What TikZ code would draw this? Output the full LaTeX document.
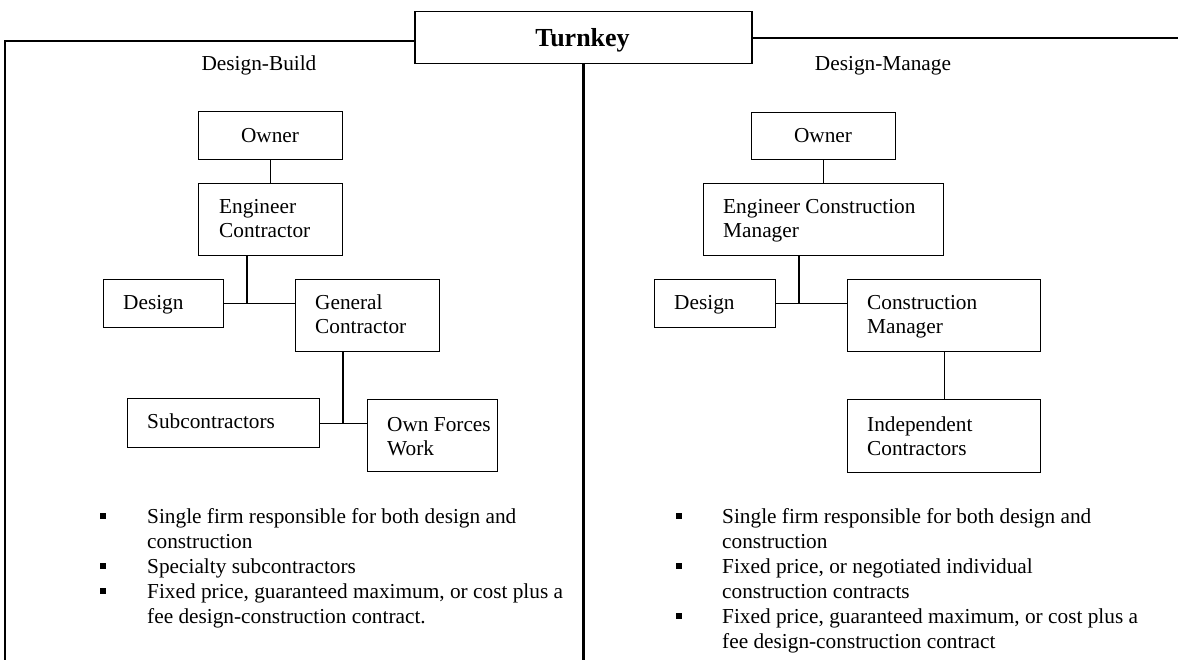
\documentclass[tikz,border=0pt]{standalone}
\usepackage{fontspec}
\setmainfont{Liberation Serif}
\begin{document}
\begin{tikzpicture}[x=1pt,y=-1pt,
  box/.style={draw, line width=1.4pt, inner sep=0pt, anchor=north west},
  txt/.style={inner sep=0pt, anchor=base west, align=left,
              font=\fontsize{21.3}{24}\selectfont},
  ctxt/.style={txt, anchor=base},
  btxt/.style={txt, font=\fontsize{21.3}{25}\selectfont},
  bullet/.style={fill, inner sep=0pt, minimum size=6.5pt},
  link/.style={draw, line width=1.4pt},
  frame/.style={draw, line width=1.5pt},
  divider/.style={draw, line width=3.4pt}]
\useasboundingbox (0,0) rectangle (1178,660);

% title box and panel outline
% (multi-line nodes below are anchored at the baseline of their last line)
\node[box, line width=1.5pt, minimum width=337, minimum height=52] (turnkey) at (414,11) {};
\node[ctxt, font=\fontsize{26}{30}\selectfont\bfseries] (turnkeyT) at (582.5,47) {Turnkey};
\draw[frame] (5,660) -- (5,41) -- (turnkey.west |- 0,41);
\draw[frame] (turnkey.east |- 0,38) -- (1178,38);
\draw[divider] (turnkey.south) -- (turnkey.south |- 0,660);

\node[ctxt] (dbT) at (259,71) {Design-Build};
\node[ctxt] (dmT) at (883,71) {Design-Manage};

% Design-Build tree
\node[box, minimum width=144, minimum height=48] (lOwner) at (198,111) {};
\node[box, minimum width=144, minimum height=72] (lEC) at (198,183) {};
\node[box, minimum width=120, minimum height=48] (lDesign) at (103,279) {};
\node[box, minimum width=144, minimum height=72] (lGC) at (295,279) {};
\node[box, minimum width=192, minimum height=49] (lSub) at (127,398) {};
\node[box, minimum width=130, minimum height=72] (lOwn) at (367,399) {};

\node[ctxt] (lOwnerT) at (270,143) {Owner};
\node[txt] (lECT) at (219,238) {Engineer\\Contractor};
\node[txt] (lDesignT) at (123,310) {Design};
\node[txt] (lGCT) at (315,334) {General\\Contractor};
\node[txt] (lSubT) at (147,428) {Subcontractors};
\node[txt] (lOwnT) at (387,455) {Own Forces\\Work};

\coordinate (jL) at (247,303);
\coordinate (jL2) at (343,423);
\draw[link] (lOwner) -- (lEC);
\draw[link] (lEC.south -| jL) -- (jL);
\draw[link] (lDesign.east) -- (lDesign.east -| lGC.west);
\draw[link] (lGC.south -| jL2) -- (jL2);
\draw[link] (lSub.east) -- (lSub.east -| lOwn.west);

% Design-Manage tree
\node[box, minimum width=144, minimum height=47] (rOwner) at (751,112) {};
\node[box, minimum width=240, minimum height=72] (rECM) at (703,183) {};
\node[box, minimum width=121, minimum height=48] (rDesign) at (654,279) {};
\node[box, minimum width=193, minimum height=72] (rCM) at (847,279) {};
\node[box, minimum width=193, minimum height=73] (rIC) at (847,399) {};

\node[ctxt] (rOwnerT) at (823,143) {Owner};
\node[txt] (rECMT) at (723,238) {Engineer Construction\\Manager};
\node[txt] (rDesignT) at (674,310) {Design};
\node[txt] (rCMT) at (867,334) {Construction\\Manager};
\node[txt] (rICT) at (867,455) {Independent\\Contractors};

\coordinate (jR) at (799,303);
\draw[link] (rOwner) -- (rECM);
\draw[link] (rECM.south -| jR) -- (jR);
\draw[link] (rDesign.east) -- (rDesign.east -| rCM.west);
\draw[link] (rCM) -- (rIC);

% notes, left
\node[bullet] (lb1) at (103,516) {};
\node[bullet] (lb2) at (103,566) {};
\node[bullet] (lb3) at (103,591) {};
\node[btxt] (ln1) at (147,548) {Single firm responsible for both design and\\construction};
\node[btxt] (ln2) at (147,573) {Specialty subcontractors};
\node[btxt] (ln3) at (147,623) {Fixed price, guaranteed maximum, or cost plus a\\fee design-construction contract.};

% notes, right
\node[bullet] (rb1) at (679,516) {};
\node[bullet] (rb2) at (679,566) {};
\node[bullet] (rb3) at (679,616) {};
\node[btxt] (rn1) at (722,548) {Single firm responsible for both design and\\construction};
\node[btxt] (rn2) at (722,598) {Fixed price, or negotiated individual\\construction contracts};
\node[btxt] (rn3) at (722,648) {Fixed price, guaranteed maximum, or cost plus a\\fee design-construction contract};
\end{tikzpicture}
\end{document}
